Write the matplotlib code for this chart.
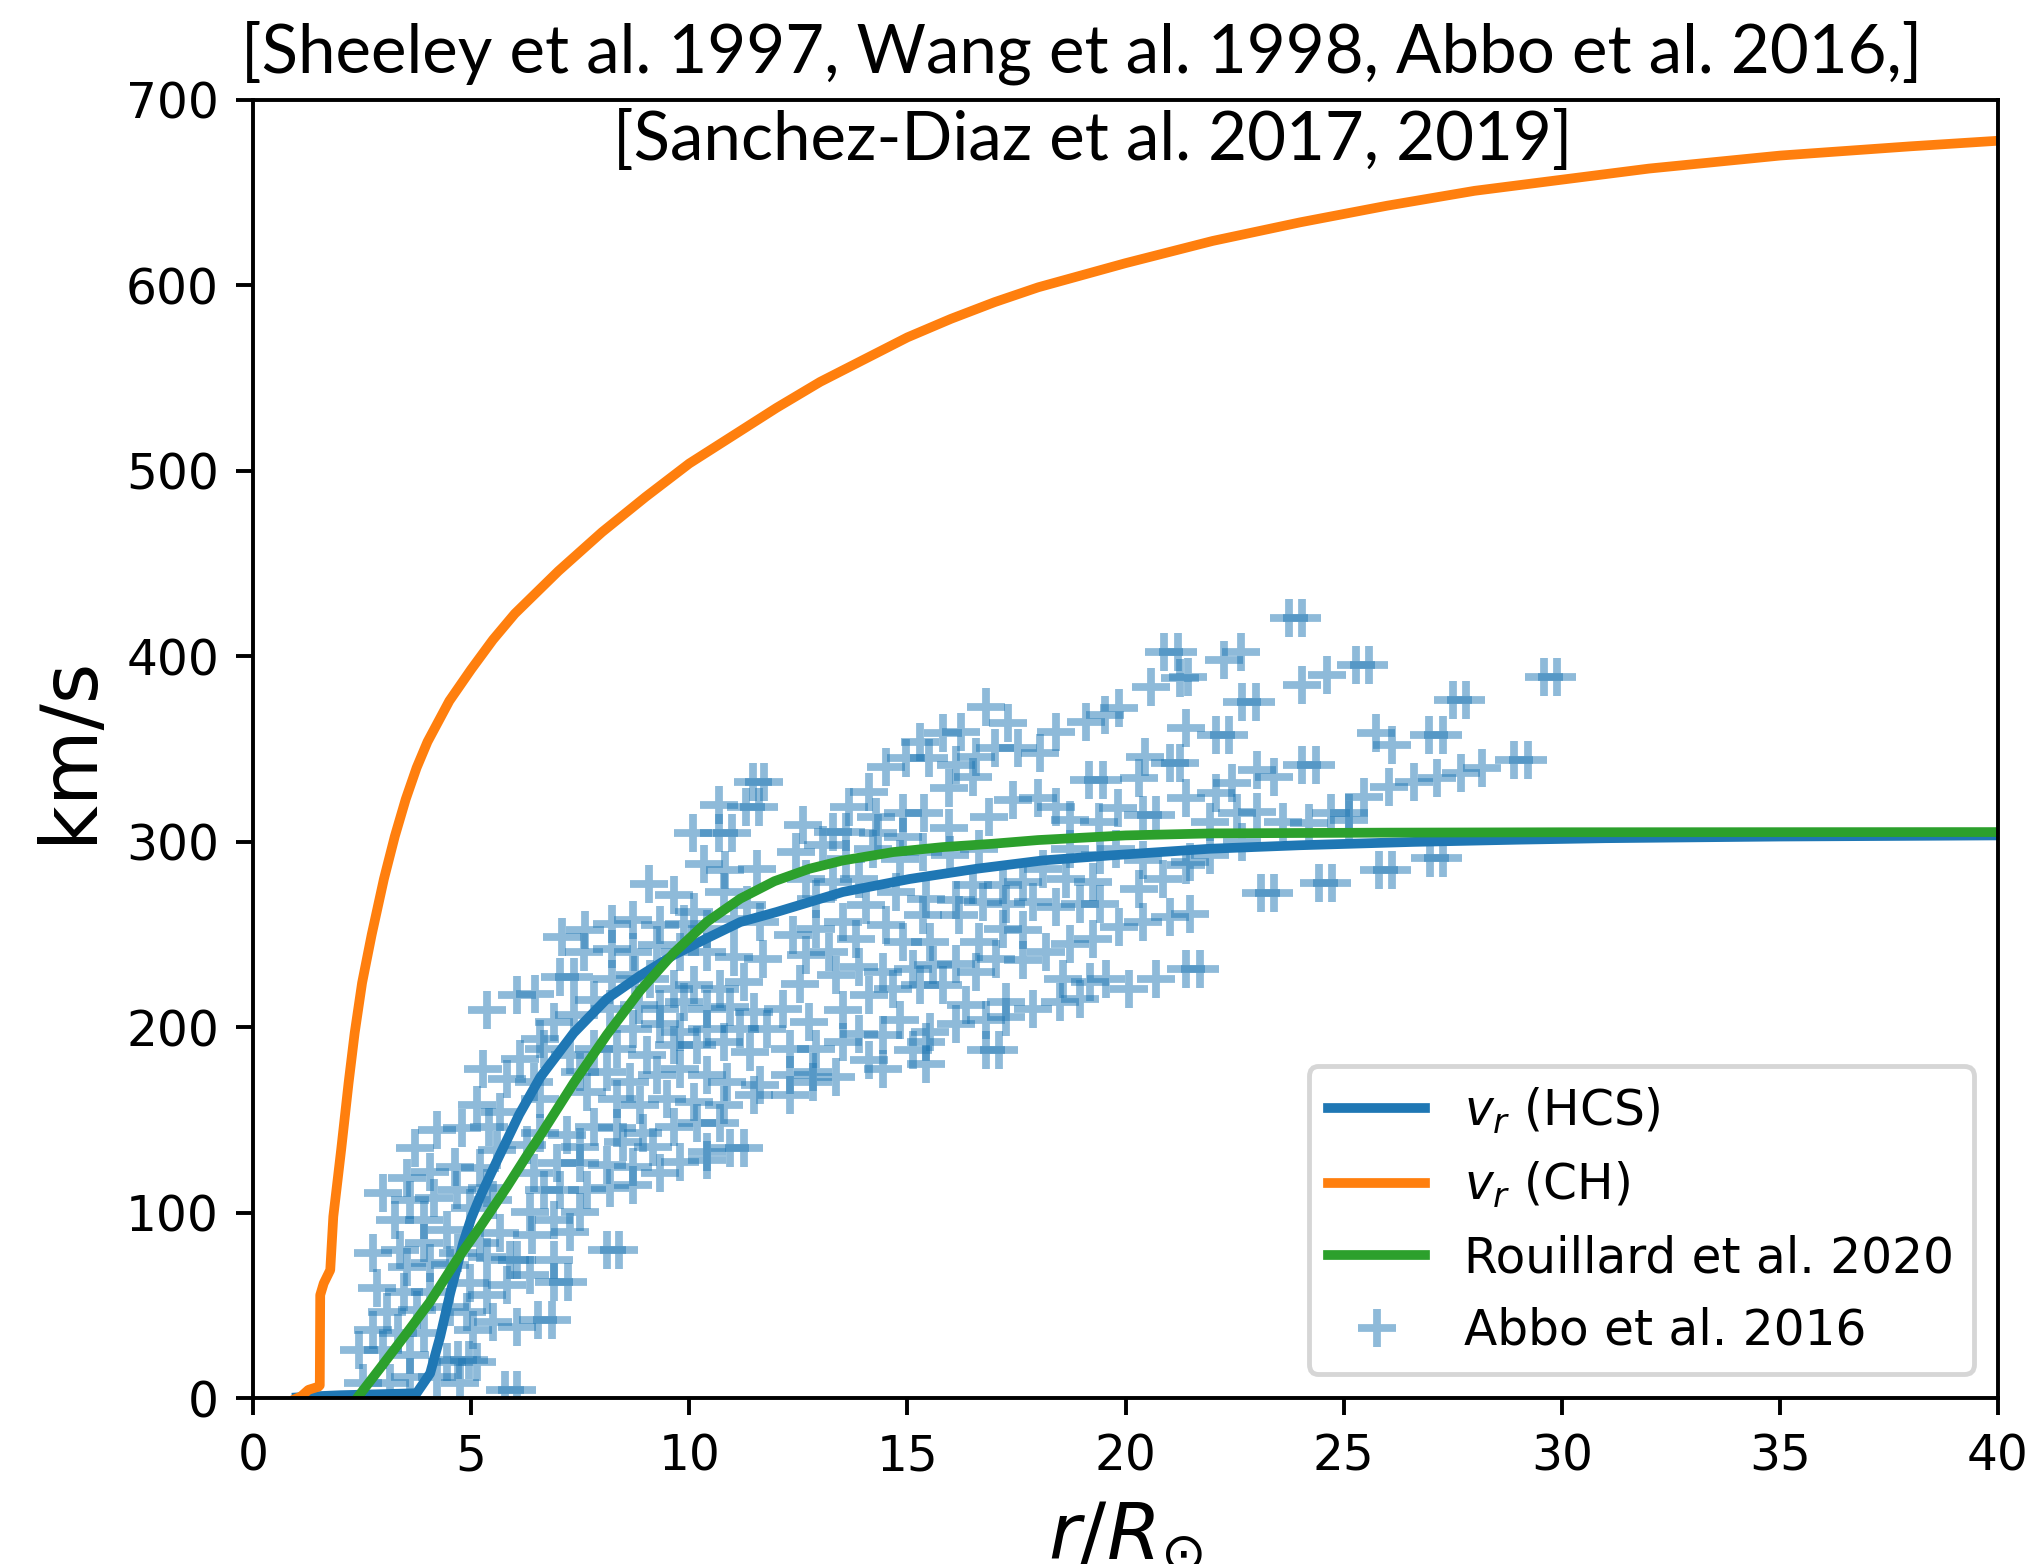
import numpy as np
import matplotlib.pyplot as plt

# radial speed profiles (r in solar radii, v in km/s)
r_hcs = [1.0, 1.5, 2.0, 2.5, 3.0, 3.5, 3.75, 4.06, 4.29, 4.52, 4.82, 5.0, 5.21, 5.59, 6.1,
         6.58, 7.35, 8.11, 8.88, 9.64, 10.4, 11.17, 12.0, 13.52, 15.05, 16.58, 18.1,
         19.64, 21.93, 24.0, 26.6, 29.0, 31.0, 35.0, 40.0]
v_hcs = [0.5, 1.2, 1.7, 2.0, 2.3, 2.6, 2.8, 13.5, 33.3, 56.7, 84.0, 97.0, 109.0, 128.0, 153.0,
         173.0, 197.0, 215.4, 228.0, 239.0, 248.0, 256.8, 262.2, 273.0, 280.0, 285.5, 290.0,
         292.7, 296.3, 298.2, 300.0, 301.2, 302.0, 302.9, 303.5]

r_ch = [1.0, 1.1, 1.27, 1.5, 1.53, 1.54, 1.62, 1.77, 1.84, 2.02, 2.19, 2.33, 2.5, 2.72,
        3.0, 3.25, 3.5, 3.75, 4.0, 4.5, 5.0, 5.5, 6.0, 7.0, 8.0, 9.0, 10.0, 11.0, 12.0,
        13.0, 14.0, 15.0, 16.0, 17.0, 18.0, 20.0, 22.0, 24.0, 26.0, 28.0, 30.0, 32.0,
        35.0, 38.0, 40.0]
v_ch = [0.0, 1.0, 4.6, 6.3, 7.0, 55.7, 62.0, 69.2, 98.0, 134.0, 170.0, 197.0, 224.0, 250.0,
        280.0, 303.0, 323.0, 340.0, 354.0, 376.0, 393.0, 409.0, 423.0, 446.0, 467.0, 486.0,
        504.0, 519.0, 534.0, 548.0, 560.0, 572.0, 582.0, 591.0, 599.0, 612.0, 624.0, 634.0,
        643.0, 651.0, 657.0, 663.0, 670.0, 675.0, 678.0]

r_rou = [2.38, 2.91, 3.52, 4.06, 4.67, 5.21, 5.82, 6.28, 6.62, 7.35, 8.11, 8.88, 9.64, 10.4,
         11.17, 11.95, 12.75, 13.52, 14.67, 15.81, 16.96, 18.0, 20.0, 22.0, 26.0, 30.0, 40.0]
v_rou = [0.0, 16.2, 35.1, 52.2, 74.6, 92.6, 114.0, 131.0, 143.0, 170.0, 196.0, 220.0, 240.0,
         256.8, 269.4, 278.8, 285.5, 290.0, 294.5, 297.2, 299.0, 301.0, 303.5, 304.6, 305.0,
         305.2, 305.3]

# Abbo et al. 2016 measurements
abbo_r = [
    4.21, 4.79, 5.40, 6.58, 7.19, 7.81, 8.34, 8.95, 9.64, 10.18, 10.71,
    3.72, 5.59, 6.28, 7.50, 8.49, 9.18, 10.40, 10.94, 11.25,
    3.52, 4.06, 4.63, 5.21, 6.43, 6.96, 7.50, 8.11, 8.72, 9.33, 9.79, 10.40,
    2.99, 3.60, 4.14, 4.67, 5.36, 6.66, 7.04, 7.65, 8.19, 8.72,
    3.26, 3.91, 4.44, 4.98, 5.51, 6.35, 6.89, 7.27, 7.50,
    2.76, 3.37, 3.91, 4.71, 5.21, 5.66, 6.39, 6.05, 6.89, 8.11, 8.38,
    3.52, 4.06, 4.52, 5.36, 5.89, 6.35, 6.89, 7.23,
    2.84, 3.45, 4.06, 4.98, 5.36, 5.82,
    3.07, 3.75, 4.52, 4.90, 5.51, 6.05, 6.54, 6.85, 5.05, 2.76, 3.33, 3.91,
    2.42, 2.99, 3.60, 4.44, 4.71, 4.94, 5.13,
    2.53, 3.14, 3.60, 4.21, 4.75, 5.78, 6.05,
    10.33, 10.83, 11.55, 9.07, 9.64, 10.79, 11.32,
    10.10, 8.72, 8.23, 7.08, 7.61, 7.58, 8.23, 8.72, 9.33, 9.87, 10.40, 11.02, 11.63,
    9.26, 9.79, 10.40, 11.02, 11.70,
    7.04, 7.35, 8.23, 8.76, 9.11, 9.64, 10.10, 10.71, 11.25,
    5.36, 6.05, 6.47, 7.81, 8.19, 8.84, 9.33, 9.87, 10.40, 10.94, 11.48,
    6.89, 6.58, 7.35, 8.72, 9.33, 9.79, 10.40, 11.17, 11.78,
    6.12, 6.66, 7.27, 7.81, 8.34, 9.03, 9.64, 10.18, 10.79, 11.40,
    5.28, 5.82, 6.43, 7.50, 8.11, 8.65, 9.26, 9.79, 10.40, 10.86, 11.63,
    5.13, 5.66, 6.58, 7.65, 8.34, 8.88, 9.49, 10.10, 10.79, 11.48,
    12.45, 13.06, 13.60, 14.21, 14.82, 15.35, 15.97, 16.65, 18.72, 19.41, 19.79, 20.40,
    21.47, 21.93,
    12.68, 13.29, 13.90, 14.74, 15.43, 16.50, 17.19, 17.65, 18.11, 18.64, 19.25, 20.32,
    20.86, 21.39,
    12.91, 13.52, 14.05, 15.35, 16.12, 16.19, 16.73, 17.27, 17.88, 18.41, 18.95, 19.41,
    19.86, 20.40, 21.01, 21.47,
    12.37, 12.91, 13.82, 14.51, 14.90, 15.51, 16.65, 17.19, 17.65, 18.18, 18.72, 19.25,
    12.68, 13.21, 13.90, 14.44, 15.12, 15.58, 16.12, 16.58, 17.04, 17.65, 18.57, 19.18,
    19.56, 20.09, 20.71, 21.39, 21.70,
    12.53, 13.37, 14.13, 14.67, 15.28, 15.81, 16.35, 17.27, 17.88, 18.49, 18.95,
    12.14, 12.75, 13.52, 14.82, 15.51, 16.12, 16.81, 17.27,
    12.30, 12.91, 13.52, 13.90, 14.44, 15.12, 15.43, 16.81, 17.11,
    12.83, 13.37, 14.13, 14.44, 15.43, 12.30, 12.30, 12.83,
    20.89, 21.20, 21.24, 21.43, 20.59,
    16.80, 17.30, 18.41, 19.10, 19.52, 19.86, 21.39,
    15.28, 15.81, 16.23, 17.00, 17.53, 18.03, 20.44, 21.01, 21.24,
    14.51, 14.97, 15.50, 16.12, 16.57, 16.50, 15.96, 19.17, 19.48, 20.32,
    14.13, 13.67, 11.45, 11.72, 10.69, 11.30, 11.60,
    12.60, 14.28, 14.89, 15.39, 15.96, 16.88, 17.42, 17.99, 18.41, 18.72, 19.40, 19.82,
    20.40, 20.70, 21.39, 21.93,
    10.08, 10.69, 10.99, 13.29, 13.59, 14.32, 14.89,
    23.75, 24.05, 22.26, 22.64, 22.68, 22.99, 24.05, 24.63, 25.28, 25.58, 22.07, 22.37,
    25.74, 26.12, 26.96, 27.27, 27.50, 27.80, 29.60, 29.90,
    23.02, 23.40, 24.05, 24.36, 22.45, 22.07, 25.47, 26.04, 26.62, 27.15, 27.69, 28.18,
    28.91, 29.22,
    22.56, 23.02, 23.60, 24.21, 24.70, 25.12, 25.12, 22.68,
    23.10, 23.40, 24.44, 24.74, 25.82, 26.12, 26.97, 27.27,
]
abbo_v = [
    144.7, 145.6, 146.5, 142.9, 142.0, 146.5, 145.6, 142.9, 146.5, 148.3, 148.3,
    134.8, 133.9, 136.6, 135.7, 138.4, 135.7, 133.0, 134.8, 134.8,
    118.7, 122.2, 124.9, 124.0, 121.3, 126.7, 126.7, 125.8, 124.9, 121.3, 127.6, 128.5,
    110.6, 107.0, 107.9, 112.4, 113.3, 112.4, 112.4, 112.4, 113.3, 115.1,
    96.2, 96.2, 90.8, 102.5, 107.0, 100.7, 96.2, 89.9, 100.7,
    78.2, 80.0, 83.6, 78.2, 83.6, 89.0, 88.1, 74.6, 74.6, 80.0, 80.0,
    71.0, 72.8, 71.9, 76.4, 74.6, 66.5, 62.9, 62.9,
    59.4, 57.6, 57.6, 62.0, 55.8, 61.1,
    46.8, 47.7, 49.5, 46.8, 41.4, 38.7, 42.3, 42.3, 36.9, 36.9, 35.1, 35.1,
    26.1, 26.1, 23.4, 19.8, 20.7, 20.7, 19.8,
    8.1, 8.1, 11.7, 11.7, 8.1, 4.5, 4.5,
    288.2, 284.6, 285.5, 277.4, 271.2, 272.9, 265.8,
    262.2, 257.7, 255.9, 248.7, 252.3, 240.6, 242.4, 240.6, 255.0, 255.9, 253.2, 258.6, 256.8,
    244.2, 240.6, 240.6, 237.9, 237.0,
    227.1, 227.1, 226.2, 228.0, 226.2, 220.8, 222.6, 220.8, 224.4,
    209.2, 217.2, 218.1, 214.5, 210.1, 211.9, 210.1, 213.6, 210.1, 211.0, 208.3,
    202.9, 193.9, 206.5, 199.3, 202.0, 197.5, 199.3, 199.3, 199.3,
    183.1, 188.5, 184.9, 188.5, 188.5, 184.9, 190.3, 190.3, 192.1, 186.7,
    177.7, 172.3, 170.5, 175.9, 175.9, 170.5, 174.1, 177.7, 174.1, 170.5, 168.7,
    157.9, 154.3, 161.5, 165.1, 161.5, 157.9, 161.5, 159.7, 157.9, 163.3,
    294.5, 298.1, 290.9, 296.3, 290.9, 294.5, 292.7, 296.3, 296.3, 292.7, 296.3, 290.0,
    289.1, 292.7,
    280.1, 278.3, 280.1, 272.9, 269.4, 276.5, 276.5, 278.3, 285.5, 280.1, 278.3, 274.7,
    280.1, 287.3,
    269.4, 256.8, 265.8, 260.4, 268.5, 260.4, 267.6, 266.7, 267.6, 264.9, 266.7, 266.7,
    254.1, 256.8, 259.5, 261.3,
    249.6, 253.2, 247.8, 255.0, 246.0, 246.0, 246.0, 253.2, 252.3, 240.6, 245.1, 247.8,
    238.8, 240.6, 232.5, 229.8, 231.6, 233.4, 234.3, 229.8, 237.0, 236.1, 226.2, 224.4,
    226.2, 220.8, 226.2, 231.6, 231.6,
    223.5, 228.0, 217.2, 220.8, 222.6, 222.6, 211.9, 213.6, 210.1, 213.6, 215.4,
    210.1, 202.9, 209.2, 203.8, 197.5, 202.0, 203.8, 205.6,
    188.5, 188.5, 192.1, 196.6, 195.7, 187.6, 192.1, 187.6, 187.6,
    175.9, 173.2, 182.2, 177.7, 180.4, 174.1, 163.3, 170.5,
    402.5, 402.5, 388.2, 389.1, 383.7,
    372.9, 363.9, 359.4, 364.8, 368.4, 372.0, 361.2,
    354.0, 358.5, 359.4, 350.4, 350.4, 347.7, 345.9, 342.3, 342.3,
    340.5, 345.0, 345.0, 341.4, 345.9, 335.2, 328.9, 333.4, 333.4, 334.3,
    327.1, 319.0, 332.5, 332.5, 319.9, 319.0, 319.0,
    309.1, 313.6, 315.4, 315.4, 307.3, 313.6, 322.6, 323.5, 319.0, 311.8, 310.9, 318.1,
    314.5, 314.5, 323.5, 310.9,
    304.6, 304.6, 304.6, 305.5, 305.5, 304.6, 302.8,
    420.5, 420.5, 398.1, 402.5, 375.6, 375.6, 384.6, 390.0, 395.4, 395.4, 357.6, 357.6,
    358.5, 352.2, 357.6, 357.6, 376.5, 376.5, 389.1, 389.1,
    338.8, 335.2, 341.4, 341.4, 331.6, 326.2, 324.4, 329.8, 332.5, 334.3, 337.0, 339.7,
    344.1, 344.1,
    315.4, 316.3, 310.9, 310.0, 315.4, 315.4, 311.8, 300.1,
    272.3, 272.3, 277.6, 277.6, 284.8, 284.8, 291.1, 291.1,
]

fig = plt.figure(figsize=(2034 / 350, 1564 / 350), dpi=350)
ax = fig.add_axes([0.1244, 0.1059, 0.8579, 0.8302])

ax.plot(r_hcs, v_hcs, color='C0', lw=2, label=r'$v_r$ (HCS)')
ax.plot(r_ch, v_ch, color='C1', lw=2, label=r'$v_r$ (CH)')
ax.plot(r_rou, v_rou, color='C2', lw=2, label='Rouillard et al. 2020')
ax.plot(abbo_r, abbo_v, '+', color='C0', alpha=0.5, ms=8, mew=1.6, zorder=1,
        label='Abbo et al. 2016')

ax.set_xlim(0, 40)
ax.set_ylim(0, 700)
ax.set_xlabel(r'$r/R_{\odot}$', fontsize=16)
ax.set_ylabel('km/s', fontsize=16)
ax.legend(loc='lower right')

fig.text(0.532, 0.9536, '[Sheeley et al. 1997, Wang et al. 1998, Abbo et al. 2016,]',
         ha='center', va='baseline', fontsize=13.8, family='Lato')
fig.text(0.5374, 0.898, '[Sanchez-Diaz et al. 2017, 2019]',
         ha='center', va='baseline', fontsize=13.8, family='Lato')

plt.savefig('out.png', dpi=350)
